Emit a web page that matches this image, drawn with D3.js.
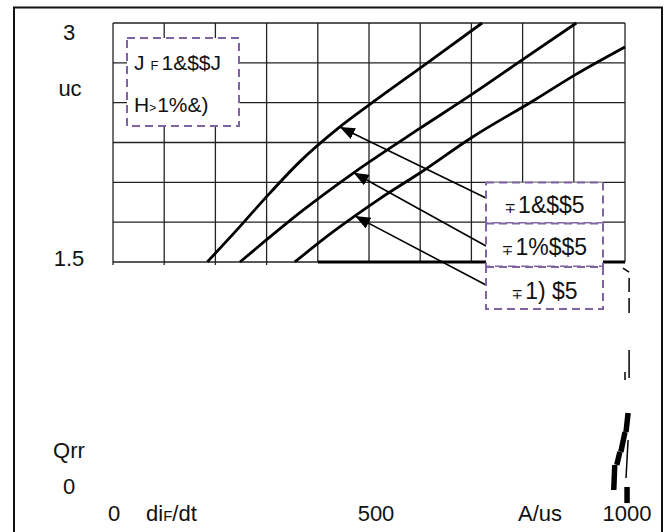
<!DOCTYPE html>
<html>
<head>
<meta charset="utf-8">
<script src="https://cdn.jsdelivr.net/npm/d3@7"></script>
<style>
  body { margin: 0; background: #fff; }
  svg { display: block; }
  text { font-family: "Liberation Sans", Arial, sans-serif; fill: #111; }
</style>
</head>
<body>
<svg id="chart" width="672" height="532"></svg>
<script>
// Qrr (uC) versus diF/dt (A/us), three temperature curves
const curveADif = [184, 250, 300, 365, 440, 515, 610, 721];
const curveAQrr = [1.5, 1.73, 1.91, 2.13, 2.34, 2.52, 2.74, 3.0];
const curveBDif = [248, 300, 365, 470, 600, 700, 800, 905];
const curveBQrr = [1.5, 1.64, 1.81, 2.06, 2.34, 2.55, 2.77, 3.0];
const curveCDif = [355, 430, 520, 600, 700, 825, 900, 1000];
const curveCQrr = [1.5, 1.69, 1.895, 2.06, 2.28, 2.52, 2.67, 2.85];

// where each label arrow touches its curve (diF/dt)
const arrowDif = [443, 470, 473];

const seriesLabels = ["1&$$5", "1%$$5", "1) $5"];
const conditionLine1 = ["J", "F", "1&$$J"];
const conditionLine2 = ["H", ">", "1%&)"];

const xTickValues = [0, 500, 1000];
const xTickLabels = ["0", "500", "1000"];
const yTickValues = [3, 1.5, 0];
const yTickLabels = ["3", "1.5", "0"];

// fragments of the lower half near 1000 A/us: [dif, qrr] pairs
const residueThin = [
  [[996, 1.462], [1008, 1.437]],
  [[1008, 1.400], [1008, 1.312]],
  [[1008, 1.274], [1008, 1.180]],
  [[1008, 0.948], [1008, 0.772]],
  [[1000, 0.810], [1000, 0.759]],
  [[1006, 0.383], [1002, 0.144]]
];
const residueThick = [
  [[1006, 0.552], [1002, 0.433]],
  [[1000, 0.433], [992, 0.308]],
  [[990, 0.308], [984, 0.226]],
  [[980, 0.226], [978, 0.069]],
  [[1004, 0.088], [1004, -0.013]]
];

const svg = d3.select("#chart");
const W = 672, H = 532;
const x = d3.scaleLinear().domain([0, 1000]).range([113, 625]);
const y = d3.scaleLinear().domain([0, 3]).range([501, 23]);

const purple = "#8064a2";

// outer frame (open at the bottom of the page)
svg.append("rect")
  .attr("x", 14).attr("y", 7.5).attr("width", 648).attr("height", H + 20)
  .attr("fill", "none").attr("stroke", "#111").attr("stroke-width", 2);

// grid over 1.5 .. 3 uC
const gx = d3.range(0, 1001, 100);
const gy = d3.range(1.75, 3.001, 0.25);
const grid = svg.append("g").attr("stroke", "#222").attr("stroke-width", 1.3);
grid.selectAll("line.v").data(gx).join("line")
  .attr("x1", d => x(d)).attr("x2", d => x(d))
  .attr("y1", y(3)).attr("y2", d => d < 400 ? y(1.5) + 3 : y(1.5));
grid.selectAll("line.h").data(gy).join("line")
  .attr("x1", x(0)).attr("x2", x(1000))
  .attr("y1", d => y(d)).attr("y2", d => y(d));
// base line: thin on the left, heavy from 400 A/us
grid.append("line").attr("x1", x(0)).attr("x2", x(400))
  .attr("y1", y(1.5)).attr("y2", y(1.5));
grid.append("line").attr("x1", x(400)).attr("x2", x(1000))
  .attr("y1", y(1.5)).attr("y2", y(1.5)).attr("stroke-width", 3).attr("stroke", "#000");

// curves
const series = [
  d3.zip(curveADif, curveAQrr),
  d3.zip(curveBDif, curveBQrr),
  d3.zip(curveCDif, curveCQrr)
];
const line = d3.line().x(d => x(d[0])).y(d => y(d[1])).curve(d3.curveMonotoneX);
svg.append("g").selectAll("path").data(series).join("path")
  .attr("d", line).attr("fill", "none")
  .attr("stroke", "#000").attr("stroke-width", 2.8);

// residue strokes
const seg = d3.line().x(d => x(d[0])).y(d => y(d[1]));
svg.append("g").selectAll("path").data(residueThin).join("path")
  .attr("d", seg).attr("stroke", "#000").attr("stroke-width", 1.5).attr("fill", "none");
svg.append("g").selectAll("path").data(residueThick).join("path")
  .attr("d", seg).attr("stroke", "#000").attr("stroke-width", 5.5).attr("fill", "none");

// arrows from the labels to the curves
svg.append("defs").append("marker")
  .attr("id", "head").attr("markerUnits", "userSpaceOnUse")
  .attr("markerWidth", 15).attr("markerHeight", 12)
  .attr("refX", 15).attr("refY", 6).attr("orient", "auto")
  .append("path").attr("d", "M0,0 L15,6 L0,12 Z").attr("fill", "#000");

function qrrAt(s, d) {
  const i = d3.bisector(p => p[0]).right(s, d);
  const a = s[Math.max(0, i - 1)], b = s[Math.min(s.length - 1, i)];
  if (a === b) return a[1];
  return a[1] + (b[1] - a[1]) * (d - a[0]) / (b[0] - a[0]);
}

const boxX = 486, boxW = 117;
const boxY = [182.5, 223.5, 267];
const boxH = [40.5, 43, 42];
const tailY = [198, 246, 285];

svg.append("g").selectAll("line").data(series).join("line")
  .attr("x1", boxX).attr("y1", (d, i) => tailY[i])
  .attr("x2", (d, i) => x(arrowDif[i]))
  .attr("y2", (d, i) => y(qrrAt(d, arrowDif[i])))
  .attr("stroke", "#000").attr("stroke-width", 1.6)
  .attr("marker-end", "url(#head)");

// label boxes
const lb = svg.append("g").selectAll("g").data(seriesLabels).join("g");
lb.append("rect")
  .attr("x", boxX).attr("y", (d, i) => boxY[i])
  .attr("width", boxW).attr("height", (d, i) => boxH[i])
  .attr("fill", "#fff").attr("stroke", purple).attr("stroke-width", 2)
  .attr("stroke-dasharray", "8,5");
const lt = lb.append("text")
  .attr("x", boxX + boxW / 2).attr("y", (d, i) => [213, 255, 298.5][i])
  .attr("text-anchor", "middle").attr("font-size", 23);
lt.append("tspan").attr("font-size", 14).attr("font-family", "DejaVu Sans").text("∓");
lt.append("tspan").attr("dx", 2).text(d => d);

// conditions box
svg.append("rect")
  .attr("x", 127).attr("y", 38).attr("width", 112).attr("height", 88)
  .attr("fill", "#fff").attr("stroke", purple).attr("stroke-width", 2)
  .attr("stroke-dasharray", "8,5");
const c1 = svg.append("text").attr("x", 134).attr("y", 70).attr("font-size", 21);
c1.append("tspan").text(conditionLine1[0]);
c1.append("tspan").attr("dx", 6).attr("font-size", 13).text(conditionLine1[1]);
c1.append("tspan").attr("dx", 3).text(conditionLine1[2]);
const c2 = svg.append("text").attr("x", 134).attr("y", 112).attr("font-size", 21);
c2.append("tspan").text(conditionLine2[0]);
c2.append("tspan").attr("font-size", 12).text(conditionLine2[1]);
c2.append("tspan").attr("dx", 1).text(conditionLine2[2]);

// tick labels
const yLabelDy = [17, 4, -7];
svg.append("g").selectAll("text").data(yTickValues).join("text")
  .attr("x", 69).attr("y", (d, i) => y(d) + yLabelDy[i])
  .attr("text-anchor", "middle").attr("font-size", 22)
  .text((d, i) => yTickLabels[i]);
const xLabelDx = [1, 7, 2];
svg.append("g").selectAll("text").data(xTickValues).join("text")
  .attr("x", (d, i) => x(d) + xLabelDx[i]).attr("y", 521)
  .attr("text-anchor", "middle").attr("font-size", 22)
  .text((d, i) => xTickLabels[i]);

// axis titles
svg.append("text").attr("x", 70).attr("y", 96).attr("text-anchor", "middle")
  .attr("font-size", 22).text("uc");
svg.append("text").attr("x", 69).attr("y", 458).attr("text-anchor", "middle")
  .attr("font-size", 22).text("Qrr");
const xt = svg.append("text").attr("x", 146).attr("y", 521).attr("font-size", 22);
xt.append("tspan").text("di");
xt.append("tspan").attr("font-size", 15).text("F");
xt.append("tspan").text("/dt");
svg.append("text").attr("x", 540).attr("y", 521).attr("text-anchor", "middle")
  .attr("font-size", 22).text("A/us");
</script>
</body>
</html>
